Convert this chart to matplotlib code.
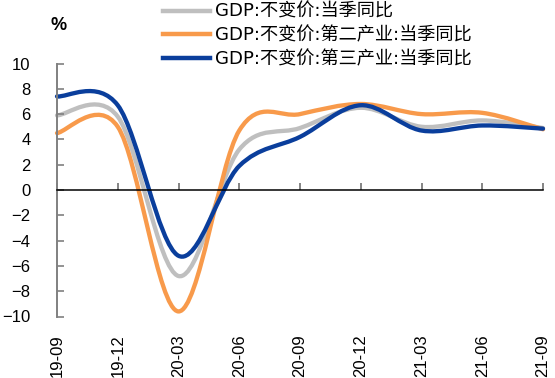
import numpy as np
import matplotlib
matplotlib.use("Agg")
import matplotlib.pyplot as plt
from matplotlib.path import Path
from matplotlib.patches import PathPatch
from matplotlib.lines import Line2D

# 季度数据（2021年为两年平均）
quarters = ["19-09", "19-12", "20-03", "20-06", "20-09", "20-12", "21-03", "21-06", "21-09"]
gdp_total = [5.9, 5.8, -6.8, 3.2, 4.9, 6.5, 5.0, 5.5, 4.9]
gdp_secondary = [4.5, 5.0, -9.6, 4.7, 6.0, 6.8, 6.0, 6.1, 4.8]
gdp_tertiary = [7.4, 6.7, -5.2, 1.9, 4.2, 6.7, 4.7, 5.1, 4.85]

series_names = ["GDP:不变价:当季同比",
                "GDP:不变价:第二产业:当季同比",
                "GDP:不变价:第三产业:当季同比"]
series_colors = ["#BFBFBF", "#F89A4B", "#0A3E9C"]


def smooth_path(x, y):
    """Excel 风格平滑曲线：Catmull-Rom 转三次贝塞尔"""
    pts = np.column_stack([x, y]).astype(float)
    n = len(pts)
    verts = [pts[0]]
    codes = [Path.MOVETO]
    for i in range(n - 1):
        p0 = pts[i - 1] if i > 0 else pts[i]
        p1 = pts[i]
        p2 = pts[i + 1]
        p3 = pts[i + 2] if i + 2 < n else pts[i + 1]
        verts += [p1 + (p2 - p0) / 6, p2 - (p3 - p1) / 6, p2]
        codes += [Path.CURVE4] * 3
    return Path(verts, codes)


plt.rcParams["font.family"] = ["Liberation Sans", "Noto Sans CJK SC"]

fig = plt.figure(figsize=(5.55, 3.78), dpi=100)
ax = fig.add_axes([57 / 555, 1 - 316.5 / 378, 486 / 555, 253 / 378])

x = np.arange(len(quarters))
handles = []
for vals, name, c in zip([gdp_total, gdp_secondary, gdp_tertiary], series_names, series_colors):
    patch = PathPatch(smooth_path(x, vals), facecolor="none", edgecolor=c,
                      lw=3.1, capstyle="round", joinstyle="round", clip_on=False)
    ax.add_patch(patch)
    handles.append(Line2D([], [], color=c, lw=3.2, label=name))

ax.set_xlim(0, len(quarters) - 1)
ax.set_ylim(-10, 10)
ax.set_yticks(np.arange(-10, 11, 2))

for s in ["top", "right"]:
    ax.spines[s].set_visible(False)
ax.spines["left"].set_color("#808080")
ax.spines["left"].set_linewidth(1.4)
ax.spines["bottom"].set_position(("data", 0))
ax.spines["bottom"].set_color("black")
ax.spines["bottom"].set_linewidth(1.1)

ax.tick_params(axis="y", direction="in", length=5, width=1.2, color="#808080",
               labelsize=12, pad=19)
ax.tick_params(axis="x", direction="in", length=5, width=1.2, color="#707070",
               labelbottom=False)
ax.set_xticks(x)

# 横轴标签放在图底部
sec = ax.secondary_xaxis("bottom")
sec.set_xticks(x, quarters, rotation=90)
sec.tick_params(length=0, pad=13, labelsize=12)
sec.spines["bottom"].set_visible(False)

fig.text(59 / 555, 1 - 25 / 378, "%", ha="center", va="center",
         fontsize=13, fontweight="bold")

fig.legend(handles=handles, loc="upper left", bbox_to_anchor=(163 / 555, 1 - 3 / 378),
           frameon=False, handlelength=2.6, handletextpad=0.25,
           labelspacing=0.3, borderpad=0.0, borderaxespad=0.0,
           prop={"family": ["DejaVu Sans", "Noto Sans CJK SC"], "size": 13.1})

fig.savefig("out.png", dpi=100)
